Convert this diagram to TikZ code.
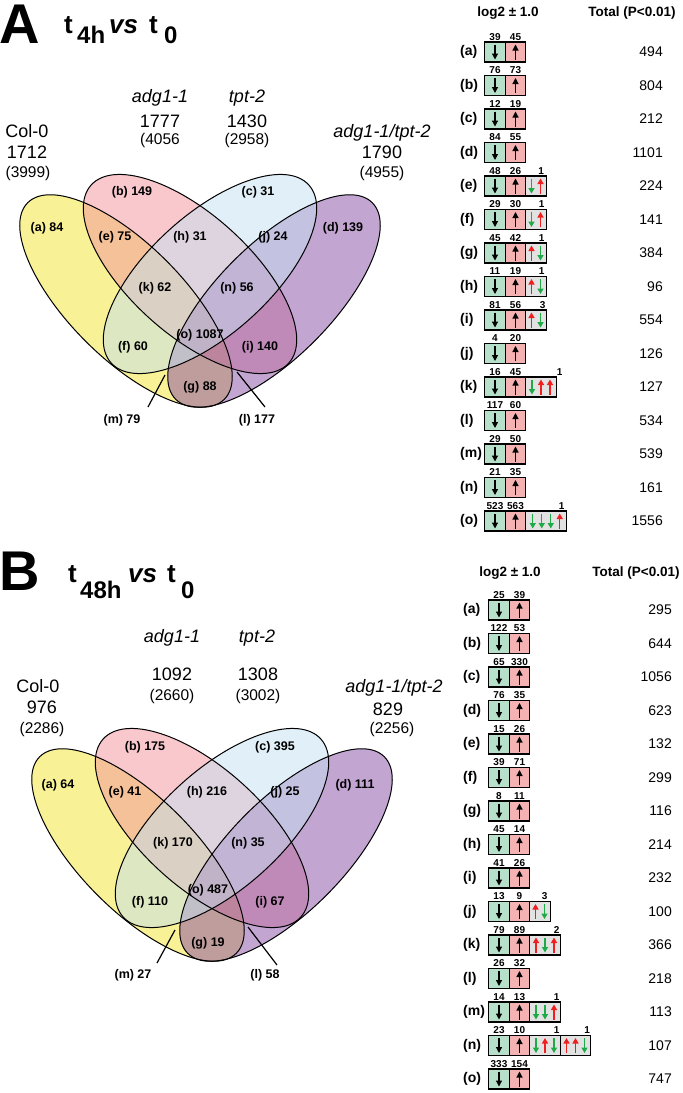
\documentclass[tikz,border=0pt]{standalone}
\usepackage{fontspec}
\setmainfont{Liberation Sans}
\usetikzlibrary{arrows.meta}
\definecolor{vyel}{RGB}{241,227,45}
\definecolor{vpink}{RGB}{241,145,155}
\definecolor{vblue}{RGB}{195,225,241}
\definecolor{vpurp}{RGB}{135,75,165}
\definecolor{cgreen}{RGB}{182,224,202}
\definecolor{cpink}{RGB}{245,178,178}
\definecolor{cgray}{RGB}{226,226,226}
\definecolor{ared}{RGB}{240,30,30}
\definecolor{agreen}{RGB}{30,170,70}
\newcommand\fourell{%
  \fill[vyel,fill opacity=.5,rotate around={-45:(126,301)}] (126,301) ellipse [x radius=139pt,y radius=57pt];
  \fill[vpink,fill opacity=.5,rotate around={-42:(190,274)}] (190,274) ellipse [x radius=133pt,y radius=60pt];
  \fill[vpurp,fill opacity=.5,rotate around={45:(274,301)}] (274,301) ellipse [x radius=139pt,y radius=57pt];
  \fill[vblue,fill opacity=.5,rotate around={42:(210,274)}] (210,274) ellipse [x radius=133pt,y radius=60pt];
  \draw[vline,rotate around={-45:(126,301)}] (126,301) ellipse [x radius=139pt,y radius=57pt];
  \draw[vline,rotate around={-42:(190,274)}] (190,274) ellipse [x radius=133pt,y radius=60pt];
  \draw[vline,rotate around={45:(274,301)}] (274,301) ellipse [x radius=139pt,y radius=57pt];
  \draw[vline,rotate around={42:(210,274)}] (210,274) ellipse [x radius=133pt,y radius=60pt];
}
% row: #1 name, #2 label x, #3 green centre x, #4 total right x, #5 y, #6 label, #7 n1, #8 n2, #9 total
\newcommand\trow[9]{%
  \node[rlab,anchor=west] (#1-l) at (#2,#5) {(#6)};
  \node[gc] (#1-g) at (#3,#5) {};
  \node[pc,anchor=west] (#1-p) at (#1-g.east) {};
  \draw[barr] ([yshift=7.5pt]#1-g.center) -- ([yshift=-7.5pt]#1-g.center);
  \draw[barr] ([yshift=-7.5pt]#1-p.center) -- ([yshift=7.5pt]#1-p.center);
  \node[cnum] (#1-gn) at ([yshift=12pt]#1-g.center) {#7};
  \node[cnum] (#1-pn) at ([yshift=12pt]#1-p.center) {#8};
  \node[tot,anchor=east] (#1-t) at (#4,#5) {#9};
}
% extra cell: #1 name, #2 anchor point, #3 width, #4 number, #5 number x offset
\newcommand\xcell[5]{%
  \node[xc,minimum width=#3pt,anchor=west] (#1) at (#2) {};
  \node[cnum] (#1-n) at ([xshift=#5pt,yshift=12pt]#1.west) {#4};
}
\newcommand\ua[2]{\draw[uarr] ([xshift=#2pt,yshift=-7.5pt]#1.west) -- ([xshift=#2pt,yshift=7.5pt]#1.west);}
\newcommand\da[2]{\draw[darr] ([xshift=#2pt,yshift=7.5pt]#1.west) -- ([xshift=#2pt,yshift=-7.5pt]#1.west);}
\begin{document}
\begin{tikzpicture}[x=1pt,y=-1pt,
  vline/.style={black,line width=1pt},
  reg/.style={font=\fontsize{12.5}{14}\selectfont\bfseries,inner sep=0},
  grp/.style={font=\fontsize{18}{20}\selectfont,inner sep=0,anchor=base},
  grpit/.style={font=\fontsize{18}{20}\selectfont\itshape,inner sep=0,anchor=base},
  grpsm/.style={font=\fontsize{15.5}{17}\selectfont,inner sep=0,anchor=base},
  big/.style={font=\fontsize{56}{60}\selectfont\bfseries,inner sep=0,anchor=base west},
  ttl/.style={font=\fontsize{26}{28}\selectfont\bfseries,inner sep=0,anchor=base west},
  ttlsub/.style={font=\fontsize{24}{26}\selectfont\bfseries,inner sep=0,anchor=base west},
  ttlit/.style={font=\fontsize{26}{28}\selectfont\bfseries\itshape,inner sep=0,anchor=base west},
  hdr/.style={font=\fontsize{13.5}{15}\selectfont\bfseries,inner sep=0},
  rlab/.style={font=\fontsize{14}{16}\selectfont\bfseries,inner sep=0},
  tot/.style={font=\fontsize{14}{16}\selectfont,inner sep=0},
  cnum/.style={font=\fontsize{10}{11}\selectfont\bfseries,inner sep=0,anchor=base},
  cellbase/.style={draw,line width=1.3pt,minimum width=20.5pt,minimum height=20pt,inner sep=0,outer sep=0},
  gc/.style={cellbase,fill=cgreen},
  pc/.style={cellbase,fill=cpink},
  xc/.style={cellbase,fill=cgray},
  barr/.style={black,line width=1.2pt,-{Triangle[width=6pt,length=6pt]}},
  uarr/.style={ared,line width=1.3pt,-{Triangle[width=6pt,length=5.5pt]}},
  darr/.style={agreen,line width=1.3pt,-{Triangle[width=6pt,length=5.5pt]}},
  lead/.style={black,line width=1.2pt}]
\useasboundingbox (0,0) rectangle (683,1093);

% ================= Panel A =================
\node[big] (A-letter) at (-1,43) {A};
\node[ttl] (A-t1) at (64,33) {t};
\node[ttlsub] (A-sub1) at (77,43) {4h};
\node[ttlit] (A-vs) at (109,33) {vs};
\node[ttl] (A-t2) at (149,33) {t};
\node[ttlsub] (A-sub2) at (164,43) {0};

\fourell

\node[grp] (A-col) at (27,137) {Col-0};
\node[grp] (A-coln) at (27,158) {1712};
\node[grpsm] (A-colt) at (28,177) {(3999)};
\node[grpit] (A-adg) at (160,102) {adg1-1};
\node[grp] (A-adgn) at (160,127) {1777};
\node[grpsm] (A-adgt) at (160,144) {(4056};
\node[grpit] (A-tpt) at (247,102) {tpt-2};
\node[grp] (A-tptn) at (247,127) {1430};
\node[grpsm] (A-tptt) at (247,144) {(2958)};
\node[grpit] (A-dbl) at (382,137) {adg1-1/tpt-2};
\node[grp] (A-dbln) at (382,158) {1790};
\node[grpsm] (A-dblt) at (382,177) {(4955)};

\node[reg] (A-ra) at (47,228) {(a) 84};
\node[reg] (A-rb) at (132,192) {(b) 149};
\node[reg] (A-rc) at (258,192) {(c) 31};
\node[reg] (A-rd) at (343,228) {(d) 139};
\node[reg] (A-re) at (115,237) {(e) 75};
\node[reg] (A-rh) at (190,237) {(h) 31};
\node[reg] (A-rj) at (273,237) {(j) 24};
\node[reg] (A-rk) at (155,288) {(k) 62};
\node[reg] (A-rn) at (237,288) {(n) 56};
\node[reg] (A-ro) at (200,335) {(o) 1087};
\node[reg] (A-rf) at (133,347) {(f) 60};
\node[reg] (A-ri) at (260,347) {(i) 140};
\node[reg] (A-rg) at (200,387) {(g) 88};
\node[reg] (A-rm) at (122,420) {(m) 79};
\node[reg] (A-rl) at (257,420) {(l) 177};
\coordinate (A-m1) at (165,375);
\coordinate (A-m2) at (148,407);
\coordinate (A-l1) at (237,372);
\coordinate (A-l2) at (265,407);
\draw[lead] (A-m1) -- (A-m2);
\draw[lead] (A-l1) -- (A-l2);

\node[hdr] (A-h1) at (508,13) {log2 ± 1.0};
\node[hdr] (A-h2) at (632,13) {Total (P<0.01)};

\trow{A-a}{460}{495}{663}{52}{a}{39}{45}{494}
\trow{A-b}{460}{495}{663}{85.5}{b}{76}{73}{804}
\trow{A-c}{460}{495}{663}{119}{c}{12}{19}{212}
\trow{A-d}{460}{495}{663}{152.5}{d}{84}{55}{1101}
\trow{A-e}{460}{495}{663}{186}{e}{48}{26}{224}
\trow{A-f}{460}{495}{663}{219.5}{f}{29}{30}{141}
\trow{A-g}{460}{495}{663}{253}{g}{45}{42}{384}
\trow{A-h}{460}{495}{663}{286.5}{h}{11}{19}{96}
\trow{A-i}{460}{495}{663}{320}{i}{81}{56}{554}
\trow{A-j}{460}{495}{663}{353.5}{j}{4}{20}{126}
\trow{A-k}{460}{495}{663}{387}{k}{16}{45}{127}
\trow{A-l}{460}{495}{663}{420.5}{l}{117}{60}{534}
\trow{A-m}{460}{495}{663}{454}{m}{29}{50}{539}
\trow{A-n}{460}{495}{663}{487.5}{n}{21}{35}{161}
\trow{A-o}{460}{495}{663}{521}{o}{523}{563}{1556}

\xcell{A-e-x}{A-e-p.east}{20.5}{1}{15.5}
\da{A-e-x}{5.75}\ua{A-e-x}{14.75}
\xcell{A-f-x}{A-f-p.east}{20.5}{1}{16}
\da{A-f-x}{5.75}\ua{A-f-x}{14.75}
\xcell{A-g-x}{A-g-p.east}{20.5}{1}{16}
\ua{A-g-x}{5.75}\da{A-g-x}{14.75}
\xcell{A-h-x}{A-h-p.east}{20.5}{1}{16}
\ua{A-h-x}{5.75}\da{A-h-x}{14.75}
\xcell{A-i-x}{A-i-p.east}{20.5}{3}{17}
\ua{A-i-x}{5.75}\da{A-i-x}{14.75}
\xcell{A-k-x}{A-k-p.east}{30.5}{1}{34}
\da{A-k-x}{6.25}\ua{A-k-x}{15.25}\ua{A-k-x}{24.25}
\xcell{A-o-x}{A-o-p.east}{41}{1}{36}
\da{A-o-x}{7}\da{A-o-x}{16}\da{A-o-x}{25}\ua{A-o-x}{34}

% ================= Panel B =================
\node[big] (B-letter) at (-1,590) {B};
\node[ttl] (B-t1) at (68,582) {t};
\node[ttlsub] (B-sub1) at (80,598) {48h};
\node[ttlit] (B-vs) at (128,582) {vs};
\node[ttl] (B-t2) at (167,582) {t};
\node[ttlsub] (B-sub2) at (181,598) {0};

\begin{scope}[shift={(12,554)}]
\fourell
\end{scope}

\node[grp] (B-col) at (38,692) {Col-0};
\node[grp] (B-coln) at (42,713) {976};
\node[grpsm] (B-colt) at (42,733) {(2286)};
\node[grpit] (B-adg) at (172,642) {adg1-1};
\node[grp] (B-adgn) at (172,680) {1092};
\node[grpsm] (B-adgt) at (172,700) {(2660)};
\node[grpit] (B-tpt) at (257,642) {tpt-2};
\node[grp] (B-tptn) at (258,680) {1308};
\node[grpsm] (B-tptt) at (258,700) {(3002)};
\node[grpit] (B-dbl) at (394,692) {adg1-1/tpt-2};
\node[grp] (B-dbln) at (388,715) {829};
\node[grpsm] (B-dblt) at (392,733) {(2256)};

\node[reg] (B-ra) at (58,785) {(a) 64};
\node[reg] (B-rb) at (145,747) {(b) 175};
\node[reg] (B-rc) at (275,747) {(c) 395};
\node[reg] (B-rd) at (355,785) {(d) 111};
\node[reg] (B-re) at (125,792) {(e) 41};
\node[reg] (B-rh) at (207,792) {(h) 216};
\node[reg] (B-rj) at (285,792) {(j) 25};
\node[reg] (B-rk) at (173,843) {(k) 170};
\node[reg] (B-rn) at (248,843) {(n) 35};
\node[reg] (B-ro) at (208,890) {(o) 487};
\node[reg] (B-rf) at (150,902) {(f) 110};
\node[reg] (B-ri) at (270,902) {(i) 67};
\node[reg] (B-rg) at (208,943) {(g) 19};
\node[reg] (B-rm) at (133,975) {(m) 27};
\node[reg] (B-rl) at (265,975) {(l) 58};
\coordinate (B-m1) at (175,930);
\coordinate (B-m2) at (157,963);
\coordinate (B-l1) at (248,927);
\coordinate (B-l2) at (277,965);
\draw[lead] (B-m1) -- (B-m2);
\draw[lead] (B-l1) -- (B-l2);

\node[hdr] (B-h1) at (510,573) {log2 ± 1.0};
\node[hdr] (B-h2) at (636,573) {Total (P<0.01)};

\trow{B-a}{463}{499}{672}{610}{a}{25}{39}{295}
\trow{B-b}{463}{499}{672}{643.5}{b}{122}{53}{644}
\trow{B-c}{463}{499}{672}{677}{c}{65}{330}{1056}
\trow{B-d}{463}{499}{672}{710.5}{d}{76}{35}{623}
\trow{B-e}{463}{499}{672}{744}{e}{15}{26}{132}
\trow{B-f}{463}{499}{672}{777.5}{f}{39}{71}{299}
\trow{B-g}{463}{499}{672}{811}{g}{8}{11}{116}
\trow{B-h}{463}{499}{672}{844.5}{h}{45}{14}{214}
\trow{B-i}{463}{499}{672}{878}{i}{41}{26}{232}
\trow{B-j}{463}{499}{672}{911.5}{j}{13}{9}{100}
\trow{B-k}{463}{499}{672}{945}{k}{79}{89}{366}
\trow{B-l}{463}{499}{672}{978.5}{l}{26}{32}{218}
\trow{B-m}{463}{499}{672}{1012}{m}{14}{13}{113}
\trow{B-n}{463}{499}{672}{1045.5}{n}{23}{10}{107}
\trow{B-o}{463}{499}{672}{1079}{o}{333}{154}{747}

\xcell{B-j-x}{B-j-p.east}{20.5}{3}{15}
\ua{B-j-x}{5.75}\da{B-j-x}{14.75}
\xcell{B-k-x}{B-k-p.east}{30.5}{2}{27}
\ua{B-k-x}{6.25}\da{B-k-x}{15.25}\ua{B-k-x}{24.25}
\xcell{B-m-x}{B-m-p.east}{30.5}{1}{27}
\da{B-m-x}{6.25}\da{B-m-x}{15.25}\ua{B-m-x}{24.25}
\xcell{B-n-x}{B-n-p.east}{30.5}{1}{27}
\da{B-n-x}{6.25}\ua{B-n-x}{15.25}\da{B-n-x}{24.25}
\xcell{B-n-y}{B-n-x.east}{30.5}{1}{27}
\ua{B-n-y}{6.25}\ua{B-n-y}{15.25}\da{B-n-y}{24.25}
\end{tikzpicture}
\end{document}
